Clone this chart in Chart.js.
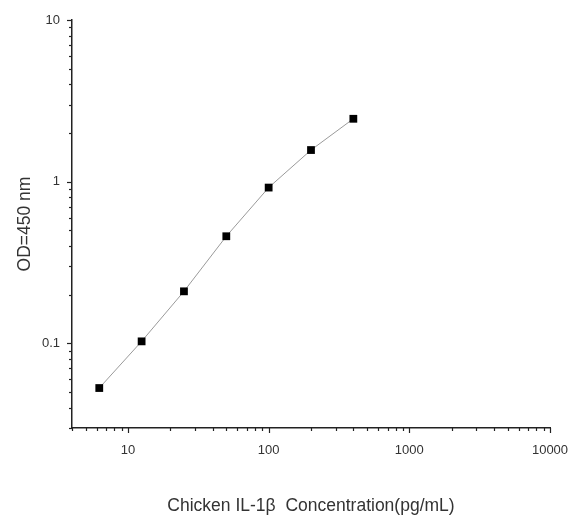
<!DOCTYPE html>
<html>
<head>
<meta charset="utf-8">
<script src="https://cdn.jsdelivr.net/npm/chart.js@4"></script>
<style>
  html, body { margin: 0; padding: 0; background: #fff; }
  #wrap { width: 570px; height: 522px; }
</style>
</head>
<body>
<div id="wrap"><canvas id="chart" width="570" height="522"></canvas></div>
<script>
// --- Data ---
const concentrations = [6.25, 12.5, 25, 50, 100, 200, 400];
const odValues = [0.053, 0.103, 0.21, 0.46, 0.92, 1.57, 2.45];

// --- Axis setup ---
const xRange = [4, 10000];
const yRange = [0.03, 10];
const xLabels = [10, 100, 1000, 10000];
const yLabels = [0.1, 1, 10];

const textColor = '#333';
const axisColor = '#222';

// log ticks 1..9 per decade inside the range
function logTicks(min, max) {
    const out = [];
    for (let e = Math.floor(Math.log10(min)); e <= Math.ceil(Math.log10(max)); e++) {
        for (let m = 1; m <= 9; m++) {
            const v = parseFloat((m * Math.pow(10, e)).toPrecision(6));
            if (v >= min - 1e-9 && v <= max + 1e-9) out.push({ value: v });
        }
    }
    return out;
}

function isDecade(v) {
    const l = Math.log10(v);
    return Math.abs(l - Math.round(l)) < 1e-9;
}

// draws major/minor tick marks outside the axes
const tickMarks = {
    id: 'tickMarks',
    afterDraw(chart) {
        const ctx = chart.ctx;
        ctx.save();
        ctx.strokeStyle = axisColor;
        ctx.lineWidth = 1.2;
        const xs = chart.scales.x, ys = chart.scales.y;
        xs.ticks.forEach(t => {
            const px = Math.round(xs.getPixelForValue(t.value)) + 0.5;
            const len = isDecade(t.value) ? 5 : 3;
            ctx.beginPath();
            ctx.moveTo(px, xs.top);
            ctx.lineTo(px, xs.top + len);
            ctx.stroke();
        });
        ys.ticks.forEach(t => {
            const py = Math.round(ys.getPixelForValue(t.value)) + 0.5;
            const len = isDecade(t.value) ? 5 : 3;
            ctx.beginPath();
            ctx.moveTo(ys.right, py);
            ctx.lineTo(ys.right - len, py);
            ctx.stroke();
        });
        ctx.restore();
    }
};

const ctx = document.getElementById('chart');
new Chart(ctx, {
    type: 'line',
    data: {
        datasets: [{
            data: concentrations.map((c, i) => ({ x: c, y: odValues[i] })),
            borderColor: '#9a9a9a',
            borderWidth: 1,
            pointStyle: 'rect',
            pointRadius: 5.5,
            pointBackgroundColor: '#000',
            pointBorderColor: '#000',
            pointBorderWidth: 0,
            tension: 0,
            fill: false
        }]
    },
    options: {
        responsive: false,
        animation: false,
        layout: { padding: { left: 0, right: 20, top: 20, bottom: 0 } },
        plugins: { legend: { display: false }, tooltip: { enabled: false } },
        scales: {
            x: {
                type: 'logarithmic',
                min: xRange[0],
                max: xRange[1],
                afterBuildTicks: s => { s.ticks = logTicks(xRange[0], xRange[1]); },
                afterFit: s => { s.height = 94; s.paddingLeft = 0; s.paddingRight = 0; },
                grid: { display: true, drawOnChartArea: false, drawTicks: false },
                border: { display: true, color: axisColor, width: 1.5 },
                ticks: {
                    autoSkip: false,
                    maxRotation: 0,
                    padding: 15,
                    color: textColor,
                    font: { family: 'Liberation Sans, Arial, sans-serif', size: 13 },
                    callback: v => xLabels.includes(v) ? String(v) : ''
                },
                title: {
                    display: true,
                    text: 'Chicken IL-1\u03b2  Concentration(pg/mL)',
                    color: textColor,
                    font: { family: 'Liberation Sans, Arial, sans-serif', size: 17.5 },
                    padding: { top: 0, bottom: 5 }
                }
            },
            y: {
                type: 'logarithmic',
                min: yRange[0],
                max: yRange[1],
                afterBuildTicks: s => { s.ticks = logTicks(yRange[0], yRange[1]); },
                afterFit: s => { s.width = 72; s.paddingTop = 0; s.paddingBottom = 0; },
                grid: { display: true, drawOnChartArea: false, drawTicks: false },
                border: { display: true, color: axisColor, width: 1.5 },
                ticks: {
                    autoSkip: false,
                    padding: 12,
                    color: textColor,
                    font: { family: 'Liberation Sans, Arial, sans-serif', size: 13 },
                    callback: v => yLabels.includes(v) ? String(v) : ''
                },
                title: {
                    display: true,
                    text: 'OD=450 nm',
                    color: textColor,
                    font: { family: 'Liberation Sans, Arial, sans-serif', size: 17.5 },
                    padding: { top: 15, bottom: 0 }
                }
            }
        }
    },
    plugins: [tickMarks]
});
</script>
</body>
</html>
